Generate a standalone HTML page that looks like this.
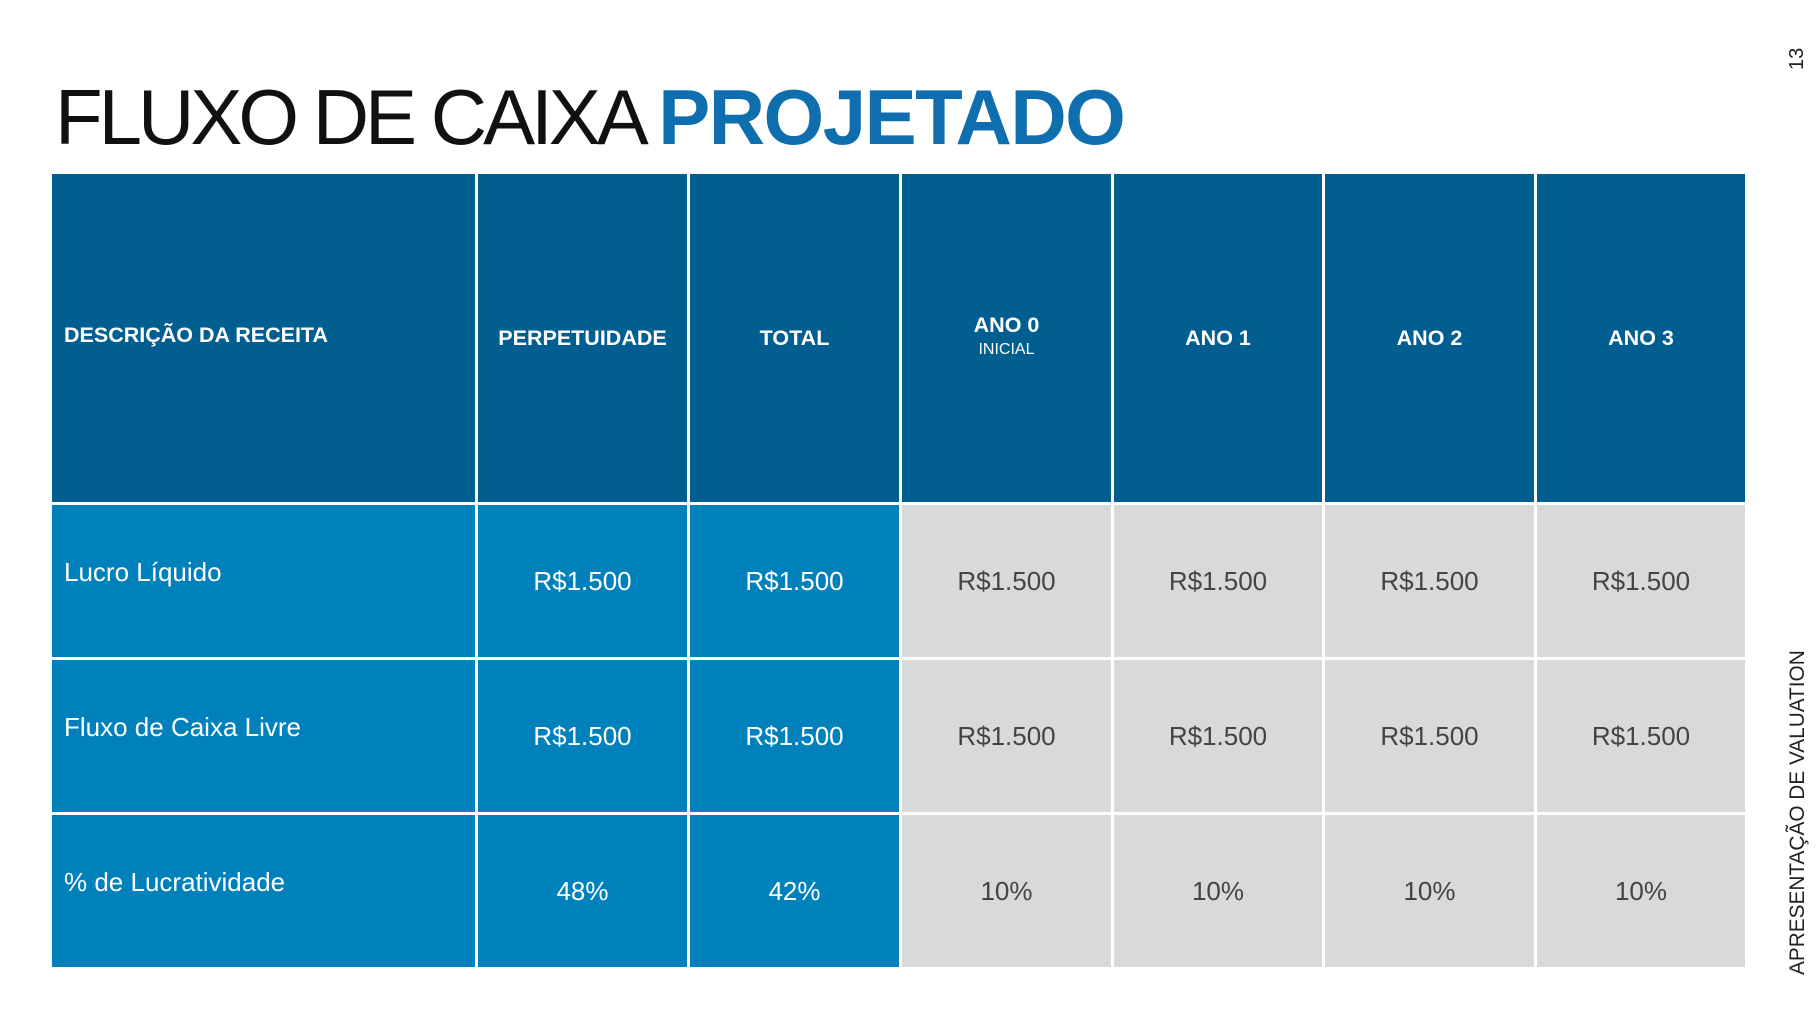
<!DOCTYPE html>
<html><head><meta charset="utf-8"><style>
body{margin:0;width:1820px;height:1024px;background:#fff;position:relative;overflow:hidden;font-family:"Liberation Sans",sans-serif}
.t{position:absolute;left:55px;top:72px;font-size:78px;letter-spacing:-4px;color:#111;white-space:nowrap}
.t b{color:#0f6fae;letter-spacing:-1.5px}
.c{position:absolute;display:flex;align-items:center;justify-content:center;text-align:center;box-sizing:border-box}
.h{background:#005e91;color:#fff;font-weight:bold;font-size:21.5px}
.b{background:#0081bb;color:#fff;font-size:26px}
.g{background:#d9d9d9;color:#444;font-size:26px}
.l{justify-content:flex-start;padding-left:12px}
.v{position:absolute;transform:rotate(-90deg);transform-origin:left top;font-size:20px;color:#222;white-space:nowrap}
</style></head><body>
<div class="t">FLUXO DE CAIXA <b>PROJETADO</b></div>
<div class="v" style="left:1786px;top:70px">13</div>
<div class="v" style="left:1786px;top:975px;font-size:20.8px">APRESENTAÇÃO DE VALUATION</div>
<div id="tb"></div>
<script>
var xs=[52,478,690,902,1114,1325,1537,1745];
var ys=[174,505,660,815,967];
var rows=[["DESCRIÇÃO DA RECEITA","PERPETUIDADE","TOTAL","<div style='line-height:22px;margin-top:-2px'>ANO 0<br><span style='font-size:16px;font-weight:normal'>INICIAL</span></div>","ANO 1","ANO 2","ANO 3"],
["Lucro Líquido","R$1.500","R$1.500","R$1.500","R$1.500","R$1.500","R$1.500"],
["Fluxo de Caixa Livre","R$1.500","R$1.500","R$1.500","R$1.500","R$1.500","R$1.500"],
["% de Lucratividade","48%","42%","10%","10%","10%","10%"]];
var h="";
for(var r=0;r<4;r++)for(var c=0;c<7;c++){
var cls=r==0?"h":(c<3?"b":"g");
if(c==0)cls+=" l";
var x=xs[c],w=xs[c+1]-x-(c<6?3:0),y=ys[r],hh=ys[r+1]-y-(r<3?3:0);
var style="left:"+x+"px;top:"+y+"px;width:"+w+"px;height:"+hh+"px;";
if(c==0&&r>0)style+="align-items:flex-start;padding-top:"+(hh/2-24)+"px;";
if(c==0&&r==0)style+="padding-bottom:6px;";
h+='<div class="c '+cls+'" style="'+style+'"><div>'+rows[r][c]+'</div></div>';}
document.getElementById("tb").innerHTML=h;
</script>
</body></html>
